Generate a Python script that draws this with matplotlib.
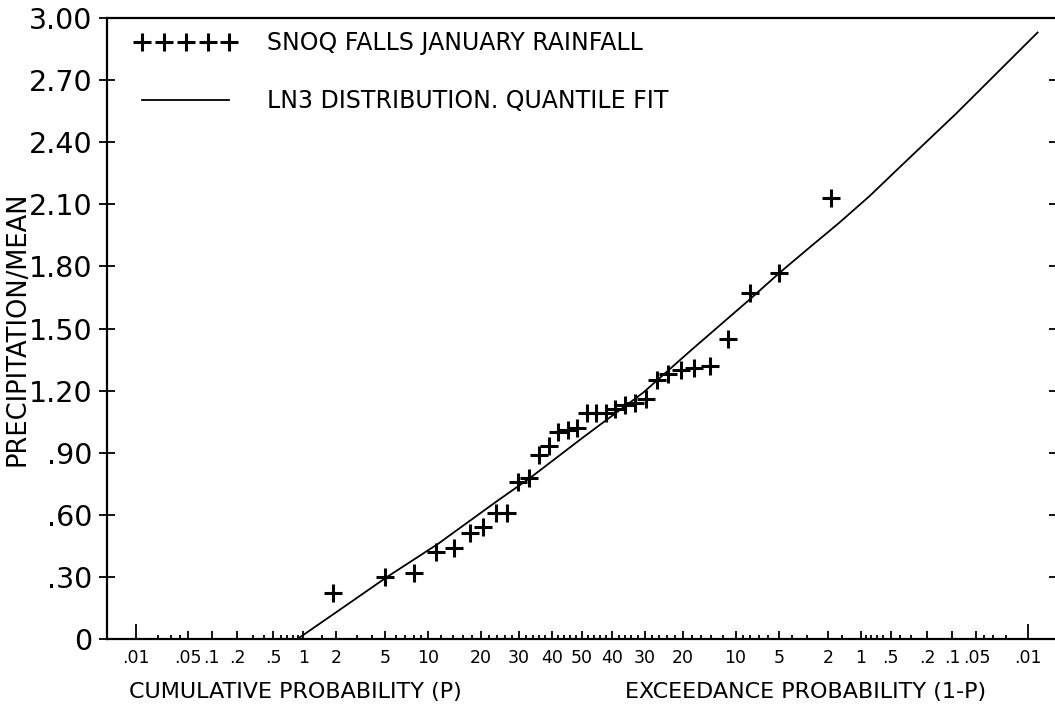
import numpy as np
import matplotlib
matplotlib.use('Agg')
import matplotlib.pyplot as plt
from matplotlib.ticker import FixedLocator, FixedFormatter
from statistics import NormalDist

# Snoqualmie Falls January rainfall, plotting positions (cumulative %) and precip/mean
rain_prob = [1.9, 5.0, 8.1, 11.2, 14.3, 17.4, 20.5, 23.6, 26.7, 29.8, 32.9, 36.0,
             39.1, 42.2, 45.3, 48.4, 51.6, 54.7, 57.8, 60.9, 64.0, 67.1, 70.2, 73.3,
             76.4, 79.5, 82.6, 85.7, 88.8, 91.9, 95.0, 98.1]
rain_ratio = [0.22, 0.30, 0.32, 0.42, 0.44, 0.51, 0.54, 0.61, 0.61, 0.76, 0.78, 0.89,
              0.93, 1.00, 1.01, 1.02, 1.09, 1.09, 1.09, 1.11, 1.13, 1.14, 1.16, 1.25,
              1.28, 1.30, 1.31, 1.32, 1.45, 1.67, 1.77, 2.13]

# LN3 quantile fit
fit_prob = [0.88, 2.28, 5.2, 11.5, 24.2, 33.4, 50.0, 69.5, 81.6, 91.9, 95.05,
            97.1, 98.4, 99.18, 99.6, 99.911, 99.9928]
fit_ratio = [0.00, 0.15, 0.30, 0.46, 0.67, 0.78, 0.97, 1.19, 1.39, 1.64, 1.77,
             1.89, 2.01, 2.14, 2.28, 2.54, 2.93]

major_prob = [0.01, 0.05, 0.1, 0.2, 0.5, 1, 2, 5, 10, 20, 30, 40, 50,
              60, 70, 80, 90, 95, 98, 99, 99.5, 99.8, 99.9, 99.95, 99.99]
major_lbl = ['.01', '.05', '.1', '.2', '.5', '1', '2', '5', '10', '20', '30', '40', '50',
             '40', '30', '20', '10', '5', '2', '1', '.5', '.2', '.1', '.05', '.01']
minor_left = [0.02, 0.03, 0.04, 0.3, 0.4, 0.6, 0.7, 0.8, 0.9, 1.5, 3, 4, 6, 7, 8, 9,
              12, 14, 16, 18, 22, 24, 26, 28, 32, 34, 36, 38, 42, 44, 46, 48]
minor_prob = minor_left + [100 - p for p in minor_left]

y_ticks = [0, 0.3, 0.6, 0.9, 1.2, 1.5, 1.8, 2.1, 2.4, 2.7, 3.0]
y_lbl = ['0', '.30', '.60', '.90', '1.20', '1.50', '1.80', '2.10', '2.40', '2.70', '3.00']

nd = NormalDist()


def prob_to_z(p):
    p = np.clip(np.asarray(p, dtype=float), 1e-7, 100 - 1e-7)
    return np.vectorize(lambda v: nd.inv_cdf(v / 100.0), otypes=[float])(p)


def z_to_prob(z):
    z = np.asarray(z, dtype=float)
    return np.vectorize(lambda v: nd.cdf(v) * 100.0, otypes=[float])(z)


fig = plt.figure(figsize=(10.55, 7.11), dpi=100)
ax = fig.add_axes([107 / 1055, 1 - 639 / 711, 950 / 1055, 621 / 711])
ax.set_xscale('function', functions=(prob_to_z, z_to_prob))

fit, = ax.plot(fit_prob, fit_ratio, color='black', lw=1.3)
pts, = ax.plot(rain_prob, rain_ratio, linestyle='none', marker='+', ms=13, mew=2.2,
               color='black')

ax.set_xlim(0.0037, 99.9963)
ax.set_ylim(0, 3.0)

ax.xaxis.set_major_locator(FixedLocator(major_prob))
ax.xaxis.set_major_formatter(FixedFormatter(major_lbl))
ax.xaxis.set_minor_locator(FixedLocator(minor_prob))
ax.set_yticks(y_ticks)
ax.set_yticklabels(y_lbl)

ax.tick_params(axis='x', which='both', direction='in', width=1.3)
ax.tick_params(axis='x', which='major', length=6, pad=7, labelsize=12.5)
ax.tick_params(axis='x', which='minor', length=3)
ax.tick_params(axis='y', direction='inout', length=11, width=1.3, labelsize=20.5,
               pad=5, right=True)
xt = ax.xaxis.get_major_ticks()
for t in (xt[0], xt[-1]):
    t.tick1line.set_markersize(11)

for s in ax.spines.values():
    s.set_linewidth(1.6)

ax.set_ylabel('PRECIPITATION/MEAN', fontsize=18.5)
ax.yaxis.label.set_verticalalignment('center')
ax.yaxis.set_label_coords(-0.0937, 0.5)

fig.text(295 / 1055, 1 - 692 / 711, 'CUMULATIVE PROBABILITY (P)', ha='center',
         va='center', fontsize=16)
fig.text(806 / 1055, 1 - 692 / 711, 'EXCEEDANCE PROBABILITY (1-P)', ha='center',
         va='center', fontsize=16)

ax.legend([pts, fit], ['SNOQ FALLS JANUARY RAINFALL', 'LN3 DISTRIBUTION. QUANTILE FIT'],
          loc='upper left', bbox_to_anchor=(28 / 950, (639 - 31) / 621),
          frameon=False, numpoints=5, handlelength=4.3, handletextpad=1.3,
          labelspacing=1.45, borderpad=0, borderaxespad=0, fontsize=17)

fig.savefig('out.png', dpi=100)
